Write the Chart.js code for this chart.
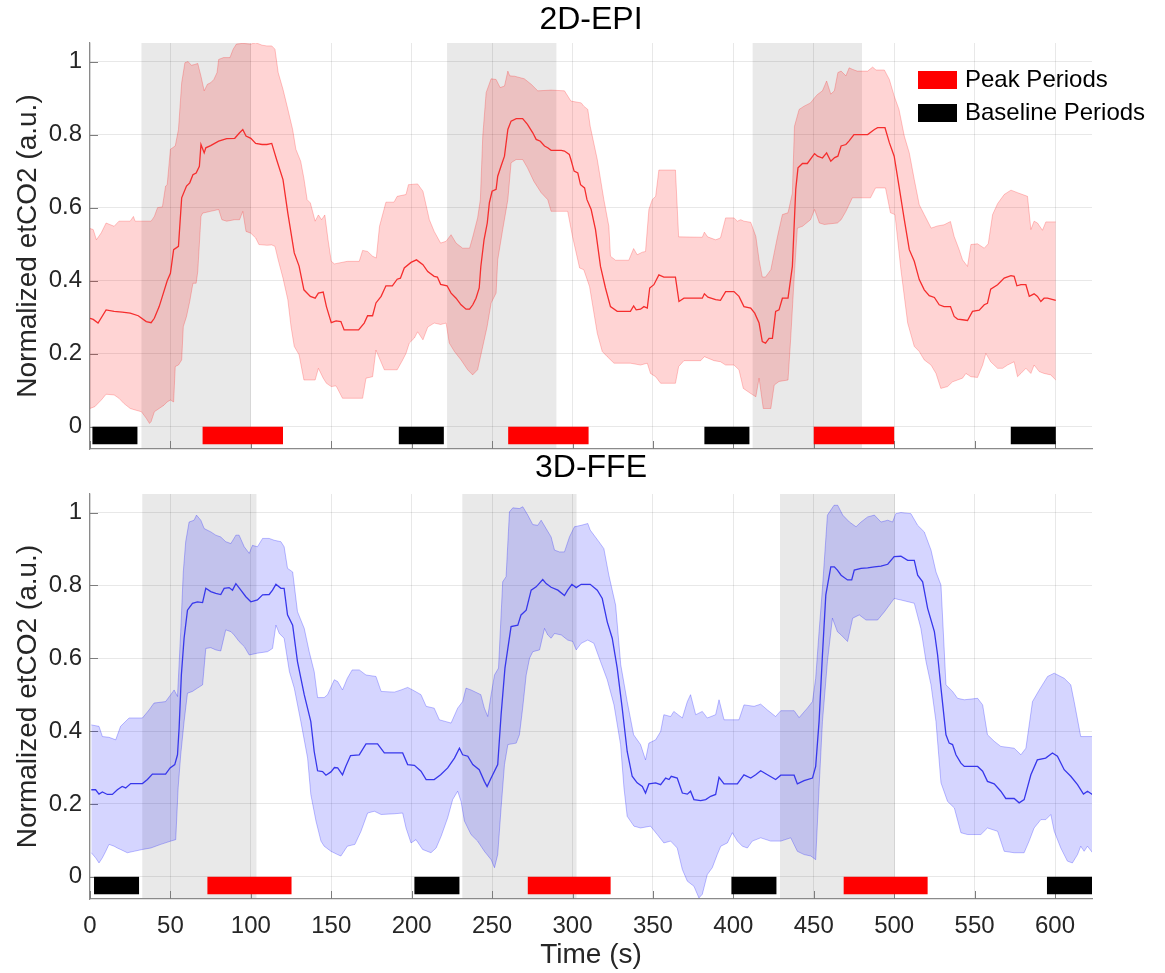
<!DOCTYPE html>
<html>
<head>
<meta charset="utf-8">
<title>Normalized etCO2 - 2D-EPI / 3D-FFE</title>
<script src="https://cdn.jsdelivr.net/npm/chart.js@4.4.1/dist/chart.umd.min.js"></script>
<style>
  html, body { margin: 0; padding: 0; background: #fff; }
  #wrap { position: relative; width: 1165px; height: 973px; }
  #topBox { position: absolute; left: 0; top: 0; width: 1165px; height: 452px; }
  #bottomBox { position: absolute; left: 0; top: 452px; width: 1165px; height: 521px; }
</style>
</head>
<body>
<div id="wrap">
  <div id="topBox"><canvas id="epiChart"></canvas></div>
  <div id="bottomBox"><canvas id="ffeChart"></canvas></div>
</div>
<script>
// axis ticks
const timeTicks = [0, 50, 100, 150, 200, 250, 300, 350, 400, 450, 500, 550, 600];
const levelTicks = [0, 0.2, 0.4, 0.6, 0.8, 1];
const levelLabels = ['0', '0.2', '0.4', '0.6', '0.8', '1'];

// 2D-EPI: [time (s), normalized etCO2]
const epiMean = [[0,0.297],[2,0.294],[5,0.284],[10,0.32],[15,0.316],[20,0.314],[25,0.311],[30,0.304],[35,0.288],[38,0.285],[40,0.297],[43,0.329],[45,0.357],[48,0.40],[50,0.42],[52,0.485],[55,0.494],[57,0.627],[60,0.659],[62,0.668],[64,0.69],[66,0.695],[68,0.713],[69,0.773],[71,0.75],[72,0.764],[75,0.77],[80,0.782],[85,0.789],[90,0.79],[93,0.805],[95,0.814],[97,0.796],[100,0.79],[103,0.776],[107,0.773],[110,0.773],[113,0.776],[116,0.732],[120,0.677],[123,0.585],[127,0.476],[130,0.44],[133,0.375],[137,0.357],[140,0.352],[142,0.366],[145,0.369],[147,0.329],[150,0.285],[153,0.29],[156,0.288],[158,0.265],[167,0.265],[170.5,0.284],[172.6,0.304],[175.7,0.304],[177.8,0.339],[181,0.357],[184,0.386],[188,0.386],[191,0.404],[193,0.407],[195.4,0.435],[199.6,0.45],[203,0.457],[207,0.444],[210,0.425],[214,0.412],[216,0.41],[218,0.39],[222,0.386],[224.5,0.366],[227.6,0.352],[230.7,0.334],[233.8,0.322],[236,0.322],[238,0.334],[240,0.352],[242,0.38],[243,0.439],[245,0.512],[247,0.558],[248.3,0.613],[250,0.645],[252.5,0.65],[253.5,0.686],[255.6,0.714],[257.7,0.741],[259.8,0.814],[261.8,0.837],[265,0.844],[269,0.844],[272,0.828],[275.3,0.805],[277.4,0.787],[280,0.782],[282.6,0.769],[284.6,0.764],[286.7,0.757],[293,0.757],[295,0.755],[298,0.746],[299,0.732],[301,0.70],[303.3,0.695],[305,0.663],[307.5,0.654],[309,0.622],[311.6,0.595],[314.3,0.54],[317.4,0.439],[320.5,0.38],[323.6,0.329],[327.8,0.316],[336,0.316],[338,0.331],[339.6,0.32],[342.3,0.322],[344.4,0.329],[346.5,0.325],[348,0.38],[350.6,0.389],[353.7,0.416],[356.8,0.41],[364,0.41],[366.2,0.343],[369.3,0.352],[380.7,0.352],[382,0.364],[384.2,0.355],[389,0.348],[392,0.346],[395.2,0.37],[400.4,0.37],[403.5,0.357],[406.6,0.329],[410.8,0.325],[413.3,0.311],[416,0.284],[418,0.233],[420,0.229],[422.2,0.242],[424.3,0.242],[426.3,0.316],[428.4,0.32],[430.5,0.352],[434,0.352],[436.7,0.439],[438.8,0.65],[440.2,0.709],[443,0.721],[446,0.721],[450.5,0.748],[452.3,0.741],[455.4,0.736],[458,0.75],[460.6,0.727],[463,0.737],[465,0.741],[467,0.769],[470,0.773],[472,0.783],[475,0.80],[483.5,0.80],[487.7,0.814],[489.7,0.819],[494.3,0.819],[497,0.778],[500,0.741],[503,0.659],[506.3,0.567],[509.4,0.485],[512.5,0.453],[515.6,0.403],[518.7,0.375],[521.8,0.359],[525,0.354],[528,0.334],[531,0.329],[535,0.329],[537.3,0.302],[539.4,0.295],[542.5,0.293],[545.6,0.291],[548.7,0.316],[552.9,0.319],[556,0.334],[558,0.338],[560,0.377],[564.3,0.389],[568.4,0.407],[572.6,0.414],[574.6,0.412],[576.3,0.386],[578.8,0.389],[581.9,0.389],[584,0.357],[587,0.364],[589.1,0.357],[591.2,0.343],[593.2,0.352],[595.3,0.352],[600.5,0.346]];
const epiUpper = [[0,0.543],[2,0.54],[4,0.512],[7,0.531],[10,0.558],[15,0.549],[18,0.563],[25,0.563],[27,0.576],[28,0.563],[38,0.563],[40,0.576],[42,0.60],[45,0.602],[47,0.659],[48,0.663],[50,0.76],[53,0.769],[55,0.814],[57,0.942],[59,0.997],[61,1.0],[63,0.99],[65,0.992],[67,0.995],[69,0.96],[71,0.92],[73,0.938],[75,0.942],[77,0.951],[79,0.97],[80,1.006],[83,1.011],[87,1.011],[89,1.034],[91,1.048],[95,1.05],[100,1.048],[103,1.052],[107,1.045],[110,1.043],[113,1.043],[115,1.034],[117,0.97],[120,0.924],[123,0.87],[126,0.814],[128,0.76],[131,0.727],[133,0.68],[135,0.622],[137,0.613],[140,0.563],[142,0.58],[144,0.567],[146,0.58],[148,0.512],[150,0.453],[152,0.446],[160,0.453],[167.4,0.453],[169.5,0.483],[172.6,0.48],[175.7,0.467],[178,0.462],[180,0.549],[184,0.615],[189,0.615],[191,0.631],[196.5,0.636],[198,0.663],[203.7,0.665],[207,0.645],[211,0.567],[214,0.535],[218,0.503],[221.4,0.508],[224.5,0.526],[227.6,0.503],[231.7,0.489],[236,0.489],[238,0.52],[241,0.572],[242.7,0.622],[244.2,0.796],[246.3,0.915],[249.4,0.953],[252.5,0.951],[255,0.929],[257.7,0.933],[259.8,0.974],[261,0.961],[264,0.96],[270,0.953],[274.3,0.938],[278.4,0.92],[286.7,0.922],[295,0.92],[299,0.892],[305.4,0.887],[307,0.878],[309.5,0.869],[311,0.823],[315.4,0.732],[319.5,0.622],[322.6,0.549],[323.6,0.467],[326.8,0.456],[335,0.456],[338,0.488],[340.2,0.471],[343.4,0.478],[345.4,0.48],[347.5,0.595],[349.6,0.622],[351.7,0.631],[353.7,0.703],[364,0.703],[366,0.52],[380.7,0.519],[382,0.533],[384,0.52],[389,0.512],[392,0.517],[395.2,0.572],[400.4,0.572],[402.5,0.563],[404.6,0.567],[406.6,0.563],[410.8,0.56],[414,0.521],[416,0.457],[418,0.41],[420,0.41],[423.3,0.43],[425.4,0.476],[427.4,0.52],[430.5,0.581],[434,0.586],[436.7,0.64],[438,0.823],[440.9,0.869],[444,0.878],[448,0.887],[450.5,0.901],[452.3,0.91],[455.4,0.92],[458,0.947],[460.6,0.911],[462.8,0.92],[465,0.97],[467,0.974],[470,0.961],[472,0.983],[474,0.979],[477,0.974],[483.5,0.974],[486.6,0.985],[488.7,0.977],[493.9,0.977],[497,0.951],[500,0.906],[503,0.869],[506.3,0.796],[509.4,0.75],[512.5,0.677],[515.6,0.608],[518.7,0.581],[523,0.544],[527,0.55],[531,0.553],[535,0.562],[537.3,0.521],[540.4,0.485],[542.5,0.457],[545.6,0.439],[547.7,0.499],[551.8,0.501],[556,0.489],[558.5,0.501],[561.2,0.581],[564.3,0.611],[568.4,0.636],[572.6,0.648],[576.7,0.641],[582.9,0.631],[585,0.54],[587,0.563],[589.1,0.558],[592.2,0.538],[594.3,0.561],[600.5,0.561]];
const epiLower = [[0,0.05],[3,0.055],[7,0.073],[10,0.089],[15,0.087],[18,0.078],[21,0.064],[25,0.05],[28,0.046],[32,0.041],[35,0.023],[37,0.009],[38,0.014],[40,0.041],[43,0.05],[46,0.059],[48,0.068],[50,0.073],[52,0.068],[53,0.165],[55,0.169],[57,0.183],[58,0.274],[60,0.302],[62,0.343],[64,0.393],[66,0.393],[67,0.425],[69,0.576],[70,0.585],[75,0.59],[80,0.595],[82,0.567],[85,0.563],[90,0.567],[93,0.567],[95,0.59],[97,0.535],[100,0.53],[103,0.517],[105,0.499],[110,0.497],[113,0.498],[115,0.494],[117,0.457],[120,0.407],[123,0.348],[125,0.274],[127,0.22],[130,0.197],[133,0.128],[140,0.128],[142,0.16],[145,0.133],[147,0.119],[150,0.11],[153,0.112],[157,0.078],[169.5,0.078],[171.6,0.133],[175.7,0.137],[177.8,0.21],[183,0.156],[191,0.156],[194.4,0.183],[196.5,0.201],[198.5,0.229],[201.7,0.243],[203.7,0.26],[207,0.238],[210,0.273],[214,0.284],[218,0.28],[221.4,0.284],[223.4,0.229],[226.6,0.206],[230.7,0.183],[234.8,0.156],[237.9,0.142],[241,0.156],[244.2,0.22],[246.9,0.274],[249.4,0.339],[252.5,0.366],[253.5,0.457],[256.6,0.54],[259.8,0.622],[261.8,0.723],[265,0.732],[269,0.732],[272,0.709],[276,0.672],[280.5,0.641],[284.6,0.622],[286.7,0.59],[297,0.59],[300,0.521],[304.4,0.435],[307,0.43],[310.6,0.384],[315.4,0.256],[318.5,0.206],[321.6,0.192],[325.8,0.174],[336,0.174],[342.3,0.169],[346.5,0.174],[348.5,0.146],[351.7,0.137],[354.8,0.119],[364,0.119],[366,0.165],[369.3,0.181],[379.7,0.181],[382,0.192],[388,0.181],[392,0.178],[395.2,0.169],[400.4,0.169],[403.5,0.156],[406.2,0.105],[410.8,0.091],[414,0.082],[416,0.133],[418.6,0.05],[423.3,0.05],[425.4,0.114],[428.4,0.124],[434,0.128],[435.6,0.238],[438,0.421],[439.8,0.544],[443,0.549],[448,0.567],[450.5,0.595],[453.5,0.558],[456.6,0.554],[464.7,0.558],[467,0.567],[470,0.59],[474,0.627],[485.3,0.627],[488.4,0.654],[494.6,0.654],[497.7,0.586],[500.5,0.581],[504.2,0.43],[508.4,0.284],[512.5,0.22],[515.6,0.206],[518.7,0.183],[522.9,0.169],[526,0.146],[529,0.105],[533.2,0.11],[536.3,0.123],[539.4,0.128],[542.5,0.133],[544.6,0.146],[547.7,0.137],[551.8,0.135],[555,0.169],[557,0.201],[560,0.178],[564.3,0.16],[567.4,0.16],[570.5,0.169],[574.6,0.178],[576.7,0.137],[578.8,0.146],[581.9,0.16],[585,0.146],[587,0.169],[590.2,0.151],[593.2,0.146],[597.3,0.142],[600.5,0.128]];
// 2D-EPI periods [start, end] in s
const epiTransition = [[32,100],[222,290],[412,480]];
const epiPeak = [[70,120],[260,310],[450,500]];
const epiBaseline = [[1.5,29.5],[192,220],[382,410],[572.5,600.5]];

// 3D-FFE: [time (s), normalized etCO2]
const ffeMean = [[0.8,0.239],[3.5,0.239],[5.6,0.227],[7.7,0.233],[10.8,0.226],[13.9,0.226],[17,0.239],[20,0.248],[22.2,0.244],[25.3,0.256],[32.6,0.256],[35.7,0.267],[38.8,0.282],[47,0.282],[49.8,0.299],[52.7,0.308],[54.4,0.335],[55.4,0.408],[56.8,0.554],[58.5,0.655],[60.6,0.732],[63.7,0.751],[66.8,0.755],[70,0.753],[72,0.792],[75.1,0.783],[78.2,0.778],[81.3,0.775],[83.4,0.792],[86.5,0.794],[88.6,0.787],[90.7,0.805],[93.8,0.787],[96.9,0.769],[100,0.755],[104.1,0.76],[107.3,0.774],[111.4,0.775],[113.5,0.787],[115.6,0.803],[118.7,0.792],[120.7,0.792],[122.8,0.719],[126,0.691],[129,0.591],[133.2,0.50],[137.3,0.426],[139.4,0.344],[141.5,0.291],[144.6,0.289],[146.7,0.279],[149.8,0.288],[152,0.30],[154,0.299],[157,0.28],[159,0.303],[162,0.333],[167.4,0.335],[171.6,0.365],[178.8,0.365],[183,0.34],[194.4,0.34],[197.5,0.308],[201.7,0.306],[205.8,0.29],[209,0.267],[214,0.267],[218,0.28],[222.4,0.299],[226.6,0.326],[229.7,0.353],[231.7,0.335],[234.9,0.331],[238,0.308],[242,0.294],[245.2,0.262],[246.9,0.248],[249.4,0.271],[253.5,0.308],[255.6,0.445],[258,0.573],[259.8,0.627],[261.8,0.687],[266,0.691],[268,0.719],[271.2,0.732],[274.3,0.787],[277.4,0.796],[281.5,0.816],[283.6,0.805],[286.7,0.795],[290.9,0.787],[295,0.772],[297,0.787],[299.6,0.803],[302.3,0.794],[305.4,0.803],[311,0.803],[315.4,0.787],[318.5,0.764],[321.6,0.70],[324.7,0.655],[327.8,0.573],[330.9,0.463],[334,0.344],[337.1,0.276],[340.2,0.258],[343.4,0.248],[345.4,0.23],[347.5,0.255],[351.7,0.258],[354.8,0.253],[357.9,0.271],[360,0.267],[361.4,0.276],[365.1,0.271],[368.3,0.23],[371.4,0.227],[373.4,0.235],[375.5,0.212],[379.7,0.209],[382.8,0.212],[385.9,0.221],[389,0.226],[391.1,0.273],[394.2,0.255],[402.5,0.255],[406.6,0.28],[410.8,0.271],[413.9,0.28],[417,0.291],[421.2,0.28],[426.3,0.267],[429.5,0.279],[437.8,0.279],[439.8,0.255],[444,0.264],[449.2,0.271],[451.2,0.303],[453.3,0.426],[455.4,0.609],[457.5,0.774],[460.6,0.851],[462.8,0.851],[464.7,0.842],[467,0.828],[471,0.815],[473.6,0.815],[475.2,0.842],[479.4,0.847],[483.5,0.848],[487.7,0.851],[491.8,0.853],[496,0.858],[500,0.879],[504.2,0.88],[508.4,0.869],[512.5,0.869],[514.6,0.828],[517.7,0.81],[520.8,0.737],[525,0.673],[527,0.609],[529.1,0.518],[532.2,0.39],[534.2,0.367],[536.3,0.363],[538.4,0.335],[541.5,0.312],[543.6,0.303],[551.9,0.303],[555,0.29],[558,0.262],[562.2,0.255],[566.3,0.235],[569.4,0.215],[574.6,0.215],[577.7,0.203],[580.8,0.212],[585,0.28],[589,0.321],[594.2,0.326],[598.4,0.34],[601.5,0.331],[605.7,0.294],[609.8,0.276],[614,0.253],[617.7,0.227],[620.2,0.235],[623.3,0.226]];
const ffeUpper = [[0.8,0.417],[5.6,0.413],[7.7,0.385],[11.8,0.383],[16,0.376],[19,0.413],[24.3,0.436],[32.6,0.436],[36.7,0.458],[39.8,0.477],[47,0.481],[50.2,0.50],[52.3,0.513],[54.4,0.495],[56.4,0.673],[58,0.837],[59.5,0.92],[61.6,0.974],[64.7,0.979],[66.2,0.993],[68.9,0.979],[71,0.956],[75.1,0.947],[78.2,0.938],[81.3,0.933],[84.4,0.92],[87.6,0.915],[90.7,0.938],[92.7,0.938],[95.9,0.906],[99,0.888],[101,0.91],[104.1,0.906],[107.3,0.929],[111.4,0.929],[114.5,0.924],[118.7,0.92],[120.7,0.906],[122.8,0.847],[126,0.837],[129,0.728],[133.2,0.682],[136.3,0.618],[139.4,0.563],[141.5,0.492],[145.6,0.492],[147.7,0.50],[151.9,0.541],[154,0.536],[157,0.513],[160,0.545],[163,0.568],[167.4,0.568],[171.6,0.554],[177.8,0.55],[181,0.509],[189.2,0.507],[193.4,0.513],[197.5,0.52],[200.6,0.513],[205.8,0.50],[209,0.468],[214,0.463],[217.2,0.431],[221.4,0.426],[224.5,0.422],[228.6,0.463],[231.7,0.481],[233.8,0.518],[236.9,0.513],[243,0.50],[245.2,0.463],[247.3,0.44],[249.4,0.50],[251.5,0.554],[254,0.573],[256.6,0.81],[258.7,0.824],[260.8,1.002],[262.9,1.013],[267,1.011],[269.1,1.016],[272.2,0.993],[275.3,0.967],[278.4,0.965],[280.5,0.979],[283.6,0.956],[286.7,0.933],[288.8,0.897],[291.9,0.892],[295,0.892],[298.1,0.933],[301.2,0.961],[305.4,0.965],[309.5,0.97],[311,0.952],[316.4,0.92],[319.5,0.901],[322.6,0.828],[326.8,0.746],[330,0.582],[334,0.481],[338,0.39],[342.3,0.363],[345.4,0.321],[347.5,0.367],[351.7,0.376],[354.8,0.399],[356.8,0.445],[361,0.44],[363,0.454],[368.3,0.436],[371.4,0.481],[373.4,0.50],[376.6,0.445],[380.7,0.454],[383.8,0.436],[389,0.445],[391.1,0.486],[394.2,0.431],[403.5,0.431],[406.6,0.472],[412.9,0.468],[417,0.474],[421.2,0.458],[426.3,0.44],[429.5,0.456],[437.8,0.456],[440.9,0.437],[446,0.463],[449.2,0.481],[451.2,0.545],[453.3,0.673],[455.4,0.792],[458.5,0.993],[462.6,1.02],[464.9,1.02],[468,0.993],[472.2,0.974],[476.3,0.961],[479.4,0.974],[483.5,0.988],[487.7,0.993],[491.8,0.974],[496,0.979],[499,0.974],[501,0.997],[504.2,1.0],[510.4,0.997],[514.6,0.965],[518.7,0.947],[522.9,0.897],[526,0.837],[529.1,0.801],[532.2,0.527],[536.3,0.509],[539.4,0.49],[543.6,0.486],[551.9,0.49],[555,0.472],[558,0.39],[562.2,0.372],[566.3,0.358],[574.6,0.353],[578.8,0.335],[581.9,0.353],[586,0.481],[590.2,0.513],[595.4,0.55],[599.5,0.559],[605.7,0.545],[609.8,0.527],[611.9,0.481],[616,0.385],[623.3,0.385]];
const ffeLower = [[0.8,0.066],[3.5,0.052],[5.6,0.038],[7.7,0.052],[9.8,0.07],[11.8,0.089],[15,0.084],[17,0.079],[19,0.075],[23.2,0.066],[27.4,0.07],[32.6,0.075],[37.8,0.079],[44,0.089],[50.2,0.098],[53.3,0.102],[54.8,0.244],[56.4,0.335],[58.5,0.426],[60.6,0.504],[63.7,0.509],[66.8,0.518],[70,0.527],[72,0.627],[75.1,0.629],[78.2,0.623],[81.3,0.62],[84.4,0.678],[87.6,0.673],[89.6,0.664],[92.7,0.646],[95.9,0.632],[99,0.609],[104.1,0.614],[110.4,0.618],[113.5,0.627],[115.6,0.691],[117.7,0.668],[120.7,0.655],[124,0.563],[127,0.518],[131.1,0.426],[135.3,0.326],[137.3,0.226],[140.5,0.153],[143.6,0.098],[145.6,0.084],[149.8,0.07],[153.9,0.061],[156,0.057],[160,0.084],[164.7,0.089],[168.5,0.125],[172.6,0.175],[176.8,0.18],[181,0.171],[189.2,0.173],[194.4,0.175],[196.5,0.134],[199.6,0.093],[202.7,0.102],[206.8,0.075],[212,0.066],[215.2,0.079],[218.3,0.111],[222.4,0.162],[225.5,0.212],[228.6,0.235],[230.7,0.207],[232.8,0.153],[236.9,0.116],[241,0.098],[245.2,0.07],[249.4,0.047],[251.5,0.025],[253.5,0.061],[255.6,0.189],[257.7,0.308],[259.8,0.363],[265,0.367],[267,0.39],[269,0.463],[271.2,0.554],[273.3,0.60],[275.3,0.618],[279.5,0.623],[282.6,0.682],[284.6,0.664],[286.7,0.655],[288.8,0.668],[293,0.664],[297,0.65],[300.2,0.646],[302.3,0.623],[305.4,0.641],[309.5,0.65],[313.3,0.641],[317.4,0.591],[321.6,0.541],[325.8,0.472],[329.9,0.363],[332,0.244],[334,0.166],[338.2,0.139],[342.3,0.134],[348.5,0.139],[352.7,0.116],[356.8,0.093],[361,0.098],[365.1,0.079],[368.3,0.02],[371.4,-0.012],[375.5,-0.026],[378.6,-0.058],[380.7,-0.048],[383.8,0.006],[386.9,0.025],[390,0.061],[392.2,0.084],[396.3,0.093],[399.4,0.121],[402.5,0.098],[405.6,0.084],[408.7,0.079],[411.8,0.098],[417,0.107],[423.2,0.098],[429.5,0.098],[435.7,0.107],[439.8,0.07],[444,0.061],[448.2,0.057],[451.2,0.047],[453.3,0.244],[455.4,0.426],[458.5,0.591],[461.6,0.71],[464.7,0.673],[467,0.664],[471,0.646],[474.2,0.71],[478.3,0.719],[482.5,0.705],[489.7,0.705],[494,0.728],[497,0.746],[500,0.764],[504.2,0.76],[512.5,0.751],[516.6,0.682],[519.8,0.591],[522.9,0.527],[526,0.426],[529.1,0.258],[533.2,0.207],[537.4,0.189],[541.5,0.121],[545.6,0.116],[553.9,0.116],[558,0.134],[564.3,0.125],[568.4,0.07],[574.6,0.066],[580.8,0.066],[583.9,0.098],[587,0.134],[591.2,0.157],[594.3,0.157],[597.4,0.171],[599.5,0.125],[603.6,0.079],[607.7,0.043],[610.8,0.038],[614,0.061],[616,0.084],[618.1,0.07],[620.2,0.084],[623.3,0.066]];
// 3D-FFE periods [start, end] in s
const ffeTransition = [[32.5,103.5],[231.5,302.5],[429,500.5]];
const ffePeak = [[73,125.3],[272.2,323.7],[468.6,520.8]];
const ffeBaseline = [[2.5,30.5],[201.7,229.7],[398.8,426.8],[595,623]];

const legendItems = [
    { label: 'Peak Periods', color: '#ff0000' },
    { label: 'Baseline Periods', color: '#000000' }
];

const FONT = '"Liberation Sans", Arial, Helvetica, sans-serif';
const TEXT_COLOR = '#262626';
const BAR_DEPTH = -0.048;   // period bars hang just below y = 0

function toPoints(pairs) {
    return pairs.map(p => ({ x: p[0], y: p[1] }));
}

// grey transition bands, inward ticks and the period bars
function makePeriodsPlugin(transition, peak, baseline) {
    return {
        id: 'periods',
        beforeDraw(chart) {
            const { ctx, chartArea, scales } = chart;
            ctx.save();
            ctx.fillStyle = 'rgb(233,233,233)';
            transition.forEach(b => {
                const x0 = scales.x.getPixelForValue(b[0]);
                const x1 = scales.x.getPixelForValue(b[1]);
                ctx.fillRect(x0, chartArea.top, x1 - x0, chartArea.bottom - chartArea.top);
            });
            ctx.restore();
        },
        beforeDatasetsDraw(chart) {
            const { ctx, chartArea, scales } = chart;
            ctx.save();
            ctx.strokeStyle = '#7d7d7d';
            ctx.lineWidth = 1;
            ctx.beginPath();
            timeTicks.forEach(t => {
                const x = Math.round(scales.x.getPixelForValue(t)) + 0.5;
                ctx.moveTo(x, chartArea.bottom);
                ctx.lineTo(x, chartArea.bottom - 8);
            });
            levelTicks.forEach(v => {
                const y = Math.round(scales.y.getPixelForValue(v)) + 0.5;
                ctx.moveTo(chartArea.left, y);
                ctx.lineTo(chartArea.left + 8, y);
            });
            ctx.stroke();
            ctx.restore();
        },
        afterDatasetsDraw(chart) {
            const { ctx, scales } = chart;
            const yTop = scales.y.getPixelForValue(0);
            const yBot = scales.y.getPixelForValue(BAR_DEPTH);
            const drawBars = (list, color) => {
                ctx.fillStyle = color;
                list.forEach(b => {
                    const x0 = scales.x.getPixelForValue(b[0]);
                    const x1 = scales.x.getPixelForValue(b[1]);
                    ctx.fillRect(x0, yTop, x1 - x0, yBot - yTop);
                });
            };
            ctx.save();
            drawBars(baseline, '#000000');
            drawBars(peak, '#ff0000');
            ctx.restore();
        }
    };
}

const periodLegend = {
    id: 'periodLegend',
    afterDraw(chart) {
        const { ctx, chartArea } = chart;
        ctx.save();
        ctx.font = '24px ' + FONT;
        ctx.textBaseline = 'middle';
        ctx.textAlign = 'left';
        legendItems.forEach((item, i) => {
            const y = chartArea.top + 28 + i * 33;
            ctx.fillStyle = item.color;
            ctx.fillRect(chartArea.right - 174, y, 39, 18);
            ctx.fillStyle = '#000';
            ctx.fillText(item.label, chartArea.right - 127, y + 9.5);
        });
        ctx.restore();
    }
};

function makePanel(canvasId, cfg) {
    const plugins = [makePeriodsPlugin(cfg.transition, cfg.peak, cfg.baseline)];
    if (cfg.legend) plugins.push(periodLegend);

    return new Chart(document.getElementById(canvasId), {
        type: 'line',
        data: {
            datasets: [
                {
                    label: 'Mean',
                    data: toPoints(cfg.mean),
                    borderColor: cfg.lineColor,
                    borderWidth: 1.3,
                    pointRadius: 0,
                    fill: false
                },
                {
                    label: 'Upper',
                    data: toPoints(cfg.upper),
                    borderColor: cfg.edgeColor,
                    backgroundColor: cfg.fillColor,
                    borderWidth: 1,
                    pointRadius: 0,
                    fill: '+1'
                },
                {
                    label: 'Lower',
                    data: toPoints(cfg.lower),
                    borderColor: cfg.edgeColor,
                    borderWidth: 1,
                    pointRadius: 0,
                    fill: false
                }
            ]
        },
        options: {
            responsive: true,
            maintainAspectRatio: false,
            animation: false,
            events: [],
            elements: { line: { tension: 0 } },
            layout: { padding: { left: 0, right: 73, top: 0, bottom: cfg.bottomPad } },
            plugins: {
                legend: { display: false },
                tooltip: { enabled: false },
                title: {
                    display: true,
                    fullSize: false,
                    text: cfg.title,
                    color: '#000',
                    font: { family: FONT, size: 32, weight: 'normal', lineHeight: 1 },
                    padding: cfg.titlePad
                }
            },
            scales: {
                x: {
                    type: 'linear',
                    min: 0,
                    max: 623,
                    afterBuildTicks: s => { s.ticks = timeTicks.map(v => ({ value: v })); },
                    afterFit: s => { s.height = cfg.xHeight; },
                    grid: { color: 'rgba(0,0,0,0.09)', drawTicks: false },
                    border: { color: '#8a8a8a', width: 1.2 },
                    ticks: {
                        display: cfg.showTime,
                        autoSkip: false,
                        maxRotation: 0,
                        padding: 13,
                        color: TEXT_COLOR,
                        font: { family: FONT, size: 24 },
                        callback: v => String(v)
                    },
                    title: {
                        display: cfg.showTime,
                        text: 'Time (s)',
                        color: TEXT_COLOR,
                        font: { family: FONT, size: 28 },
                        padding: { top: 0, bottom: 1 }
                    }
                },
                y: {
                    min: -0.061,
                    max: 1.051,
                    afterBuildTicks: s => { s.ticks = levelTicks.map(v => ({ value: v })); },
                    afterFit: s => {
                        s.width = 90;
                        // the end labels sit well inside the axis, no extra room needed
                        s.paddingTop = 0;
                        s.paddingBottom = 0;
                    },
                    grid: { color: 'rgba(0,0,0,0.09)', drawTicks: false },
                    border: { color: '#8a8a8a', width: 1.2 },
                    ticks: {
                        padding: 8,
                        color: TEXT_COLOR,
                        font: { family: FONT, size: 24 },
                        callback: (v, i) => levelLabels[i]
                    },
                    title: {
                        display: true,
                        text: 'Normalized etCO2 (a.u.)',
                        color: TEXT_COLOR,
                        font: { family: FONT, size: 28 },
                        padding: { top: 11, bottom: 0 }
                    }
                }
            }
        },
        plugins: plugins
    });
}

makePanel('epiChart', {
    title: '2D-EPI',
    mean: epiMean, upper: epiUpper, lower: epiLower,
    transition: epiTransition, peak: epiPeak, baseline: epiBaseline,
    lineColor: 'rgb(245,45,45)',
    edgeColor: 'rgba(255,0,0,0.22)',
    fillColor: 'rgba(255,0,0,0.17)',
    titlePad: { top: 4, bottom: 7 },
    bottomPad: 3,
    xHeight: 0,
    showTime: false,
    legend: true
});

makePanel('ffeChart', {
    title: '3D-FFE',
    mean: ffeMean, upper: ffeUpper, lower: ffeLower,
    transition: ffeTransition, peak: ffePeak, baseline: ffeBaseline,
    lineColor: 'rgb(55,55,235)',
    edgeColor: 'rgba(0,0,255,0.25)',
    fillColor: 'rgba(0,0,255,0.165)',
    titlePad: { top: 0, bottom: 10 },
    bottomPad: 0,
    xHeight: 74,
    showTime: true,
    legend: false
});
</script>
</body>
</html>
